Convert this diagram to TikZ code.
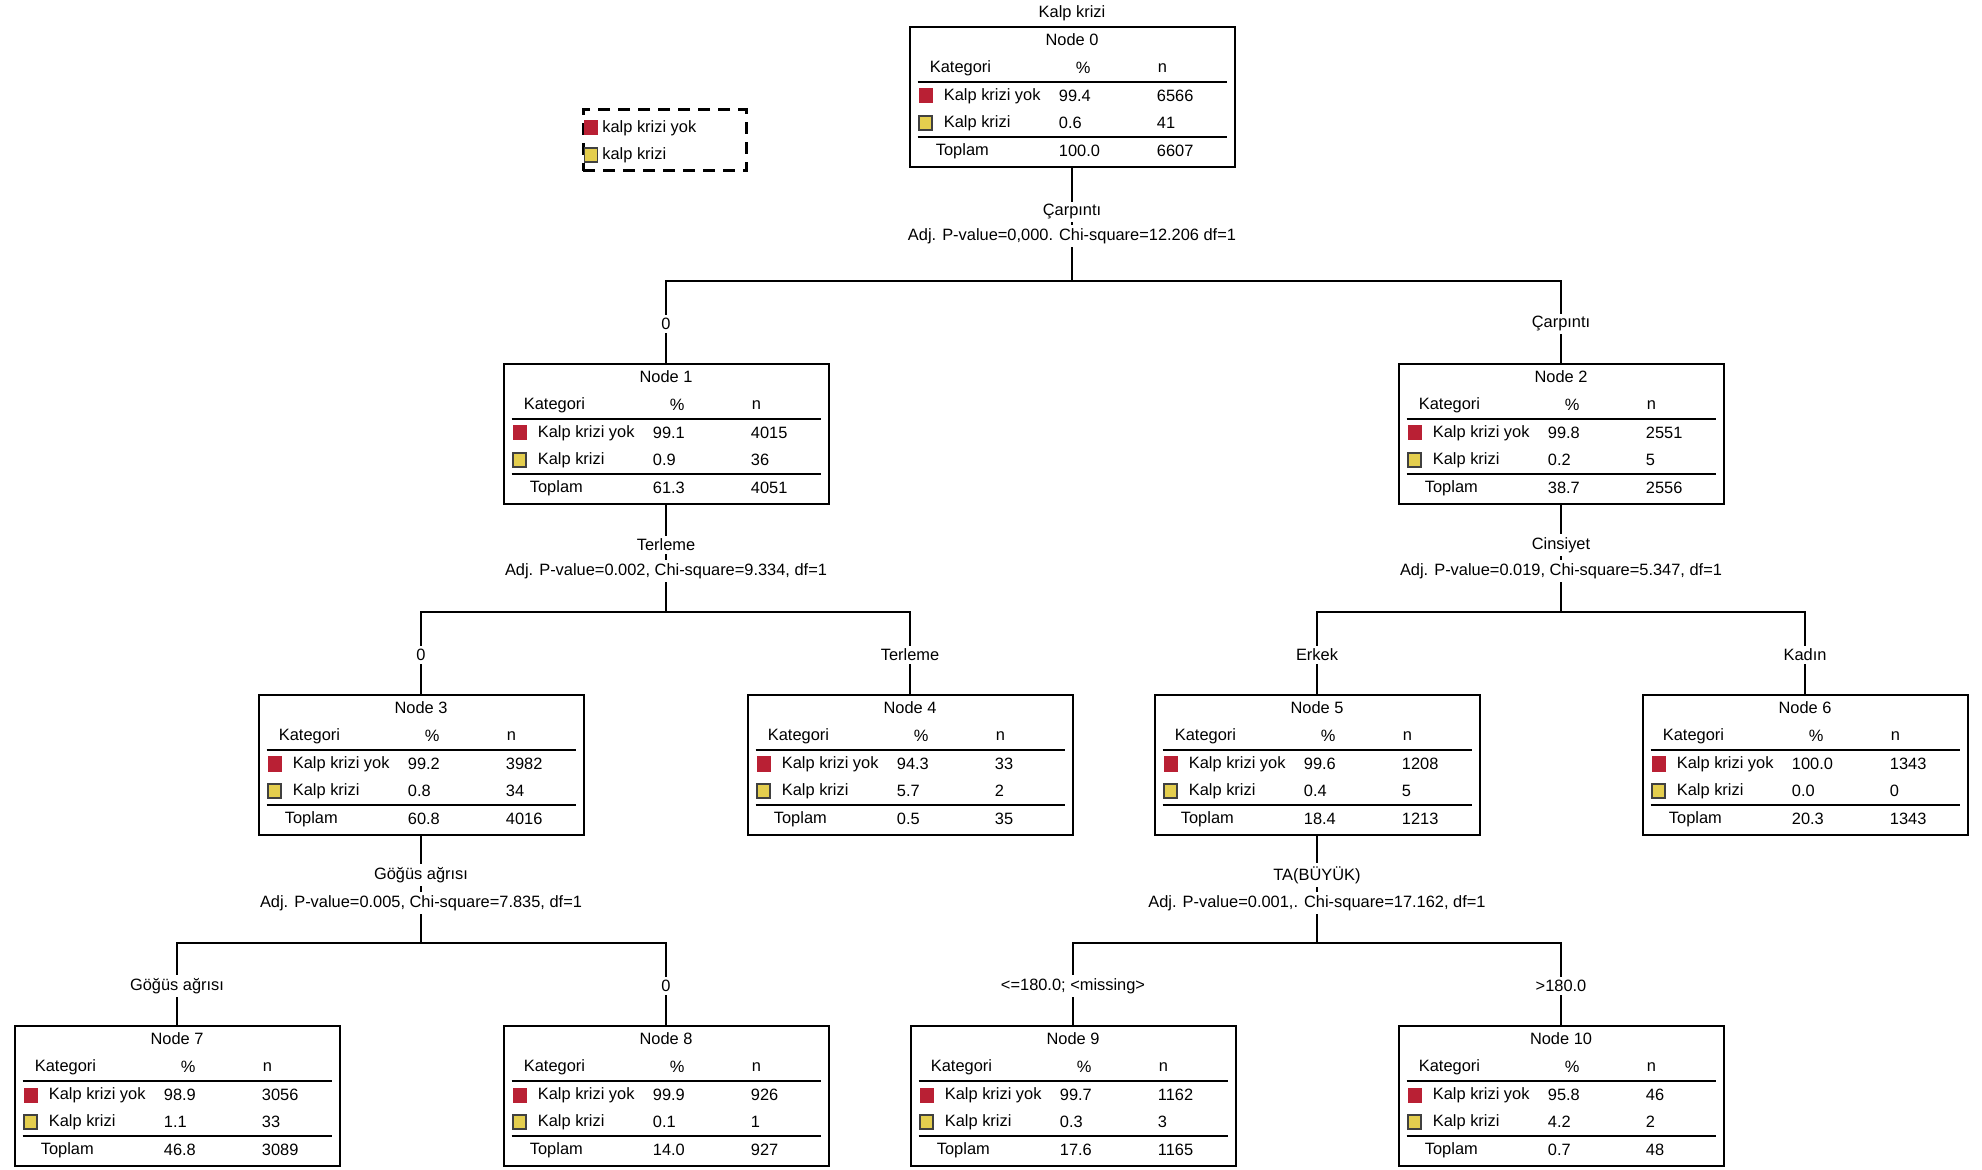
\documentclass[tikz,border=0pt]{standalone}
\usepackage{fontspec}
\setmainfont{Liberation Sans}

\definecolor{krizred}{RGB}{185,32,52}
\definecolor{krizyellow}{RGB}{228,206,78}

% one CHAID node: number, centre x, top y, then % and n of the three rows
\newcommand{\ctnode}[9]{%
	\node[nodebox] (n#1) at (#2,#3+70) {};
	\node[boxtitle] (n#1t) at ([shift={(0,14)}]n#1.north) {Node #1};
	\node[cell] (n#1hk) at ([shift={(21,42)}]n#1.north west) {Kategori};
	\node[cell] (n#1hp) at ([shift={(167,42)}]n#1.north west) {\%};
	\node[cell] (n#1hn) at ([shift={(249,42)}]n#1.north west) {n};
	\draw[rulerow] ([shift={(9,56)}]n#1.north west) -- ([shift={(-9,56)}]n#1.north east);
	\node[redsq] (n#1r) at ([shift={(17,70)}]n#1.north west) {};
	\node[cell] (n#1rk) at ([shift={(35,70)}]n#1.north west) {Kalp krizi yok};
	\node[cell] (n#1rp) at ([shift={(150,70)}]n#1.north west) {#4};
	\node[cell] (n#1rn) at ([shift={(248,70)}]n#1.north west) {#5};
	\node[yelsq] (n#1y) at ([shift={(17,97)}]n#1.north west) {};
	\node[cell] (n#1yk) at ([shift={(35,97)}]n#1.north west) {Kalp krizi};
	\node[cell] (n#1yp) at ([shift={(150,97)}]n#1.north west) {#6};
	\node[cell] (n#1yn) at ([shift={(248,97)}]n#1.north west) {#7};
	\draw[rulerow] ([shift={(9,111)}]n#1.north west) -- ([shift={(-9,111)}]n#1.north east);
	\node[cell] (n#1tk) at ([shift={(27,125)}]n#1.north west) {Toplam};
	\node[cell] (n#1tp) at ([shift={(150,125)}]n#1.north west) {#8};
	\node[cell] (n#1tn) at ([shift={(248,125)}]n#1.north west) {#9};
}

\begin{document}
\begin{tikzpicture}[x=0.5pt,y=-0.5pt,
		font=\fontsize{8.2}{10}\selectfont,
		nodebox/.style={draw, line width=1pt, fill=white, minimum width=162.5pt, minimum height=70pt, inner sep=0pt},
		boxtitle/.style={inner sep=0pt},
		cell/.style={anchor=west, inner sep=0pt},
		rulerow/.style={line width=0.9pt},
		redsq/.style={fill=krizred, minimum width=7pt, minimum height=7.5pt, inner sep=0pt},
		yelsq/.style={fill=krizyellow, draw=black!75, line width=0.7pt, minimum width=6.5pt, minimum height=7pt, inner sep=0pt},
		link/.style={line width=1pt},
		splitlabel/.style={fill=white, inner sep=1.5pt},
		legendbox/.style={draw, dash pattern=on 6pt off 4pt, line width=1.5pt, minimum width=81.5pt, minimum height=30.5pt, inner sep=0pt}
	]
	\useasboundingbox (0,0) rectangle (1982,1170);

	% legend
	\node[legendbox] (leg) at (664.5,140.5) {};
	\node[redsq] (legr) at (591,128) {};
	\node[cell] (legrt) at (602,128) {kalp krizi yok};
	\node[yelsq] (legy) at (591,155) {};
	\node[cell] (legyt) at (602,155) {kalp krizi};

	% tree
	\node[boxtitle] (root) at (1072,13) {Kalp krizi};
	\ctnode{0}{1072}{27}{99.4}{6566}{0.6}{41}{100.0}{6607}
	\ctnode{1}{666}{364}{99.1}{4015}{0.9}{36}{61.3}{4051}
	\ctnode{2}{1561}{364}{99.8}{2551}{0.2}{5}{38.7}{2556}
	\ctnode{3}{421}{695}{99.2}{3982}{0.8}{34}{60.8}{4016}
	\ctnode{4}{910}{695}{94.3}{33}{5.7}{2}{0.5}{35}
	\ctnode{5}{1317}{695}{99.6}{1208}{0.4}{5}{18.4}{1213}
	\ctnode{6}{1805}{695}{100.0}{1343}{0.0}{0}{20.3}{1343}
	\ctnode{7}{177}{1026}{98.9}{3056}{1.1}{33}{46.8}{3089}
	\ctnode{8}{666}{1026}{99.9}{926}{0.1}{1}{14.0}{927}
	\ctnode{9}{1073}{1026}{99.7}{1162}{0.3}{3}{17.6}{1165}
	\ctnode{10}{1561}{1026}{95.8}{46}{4.2}{2}{0.7}{48}

	\coordinate (s0) at (1072,281);
	\coordinate (s1) at (666,612);
	\coordinate (s2) at (1561,612);
	\coordinate (s3) at (421,943);
	\coordinate (s5) at (1317,943);

	\draw[link] (n0.south) -- (s0);
	\draw[link] (n1.north) |- (s0) -| (n2.north);
	\draw[link] (n1.south) -- (s1);
	\draw[link] (n3.north) |- (s1) -| (n4.north);
	\draw[link] (n2.south) -- (s2);
	\draw[link] (n5.north) |- (s2) -| (n6.north);
	\draw[link] (n3.south) -- (s3);
	\draw[link] (n7.north) |- (s3) -| (n8.north);
	\draw[link] (n5.south) -- (s5);
	\draw[link] (n9.north) |- (s5) -| (n10.north);

	\node[splitlabel] (v0) at (1072,212) {Çarpıntı};
	\node[splitlabel] (a0) at (1072,236) {Adj. P-value=0,000. Chi-square=12.206 df=1};
	\node[splitlabel] (b1) at (666,324) {0};
	\node[splitlabel] (b2) at (1561,324) {Çarpıntı};

	\node[splitlabel] (v1) at (666,545) {Terleme};
	\node[splitlabel] (a1) at (666,571) {Adj. P-value=0.002, Chi-square=9.334, df=1};
	\node[splitlabel] (v2) at (1561,545) {Cinsiyet};
	\node[splitlabel] (a2) at (1561,571) {Adj. P-value=0.019, Chi-square=5.347, df=1};
	\node[splitlabel] (b3) at (421,655) {0};
	\node[splitlabel] (b4) at (910,655) {Terleme};
	\node[splitlabel] (b5) at (1317,655) {Erkek};
	\node[splitlabel] (b6) at (1805,655) {Kadın};

	\node[splitlabel] (v3) at (421,875) {Göğüs ağrısı};
	\node[splitlabel] (a3) at (421,903) {Adj. P-value=0.005, Chi-square=7.835, df=1};
	\node[splitlabel] (v5) at (1317,875) {TA(BÜYÜK)};
	\node[splitlabel] (a5) at (1317,903) {Adj. P-value=0.001,. Chi-square=17.162, df=1};
	\node[splitlabel] (b7) at (177,986) {Göğüs ağrısı};
	\node[splitlabel] (b8) at (666,986) {0};
	\node[splitlabel] (b9) at (1073,986) {<=180.0; <missing>};
	\node[splitlabel] (b10) at (1561,986) {>180.0};
\end{tikzpicture}
\end{document}
